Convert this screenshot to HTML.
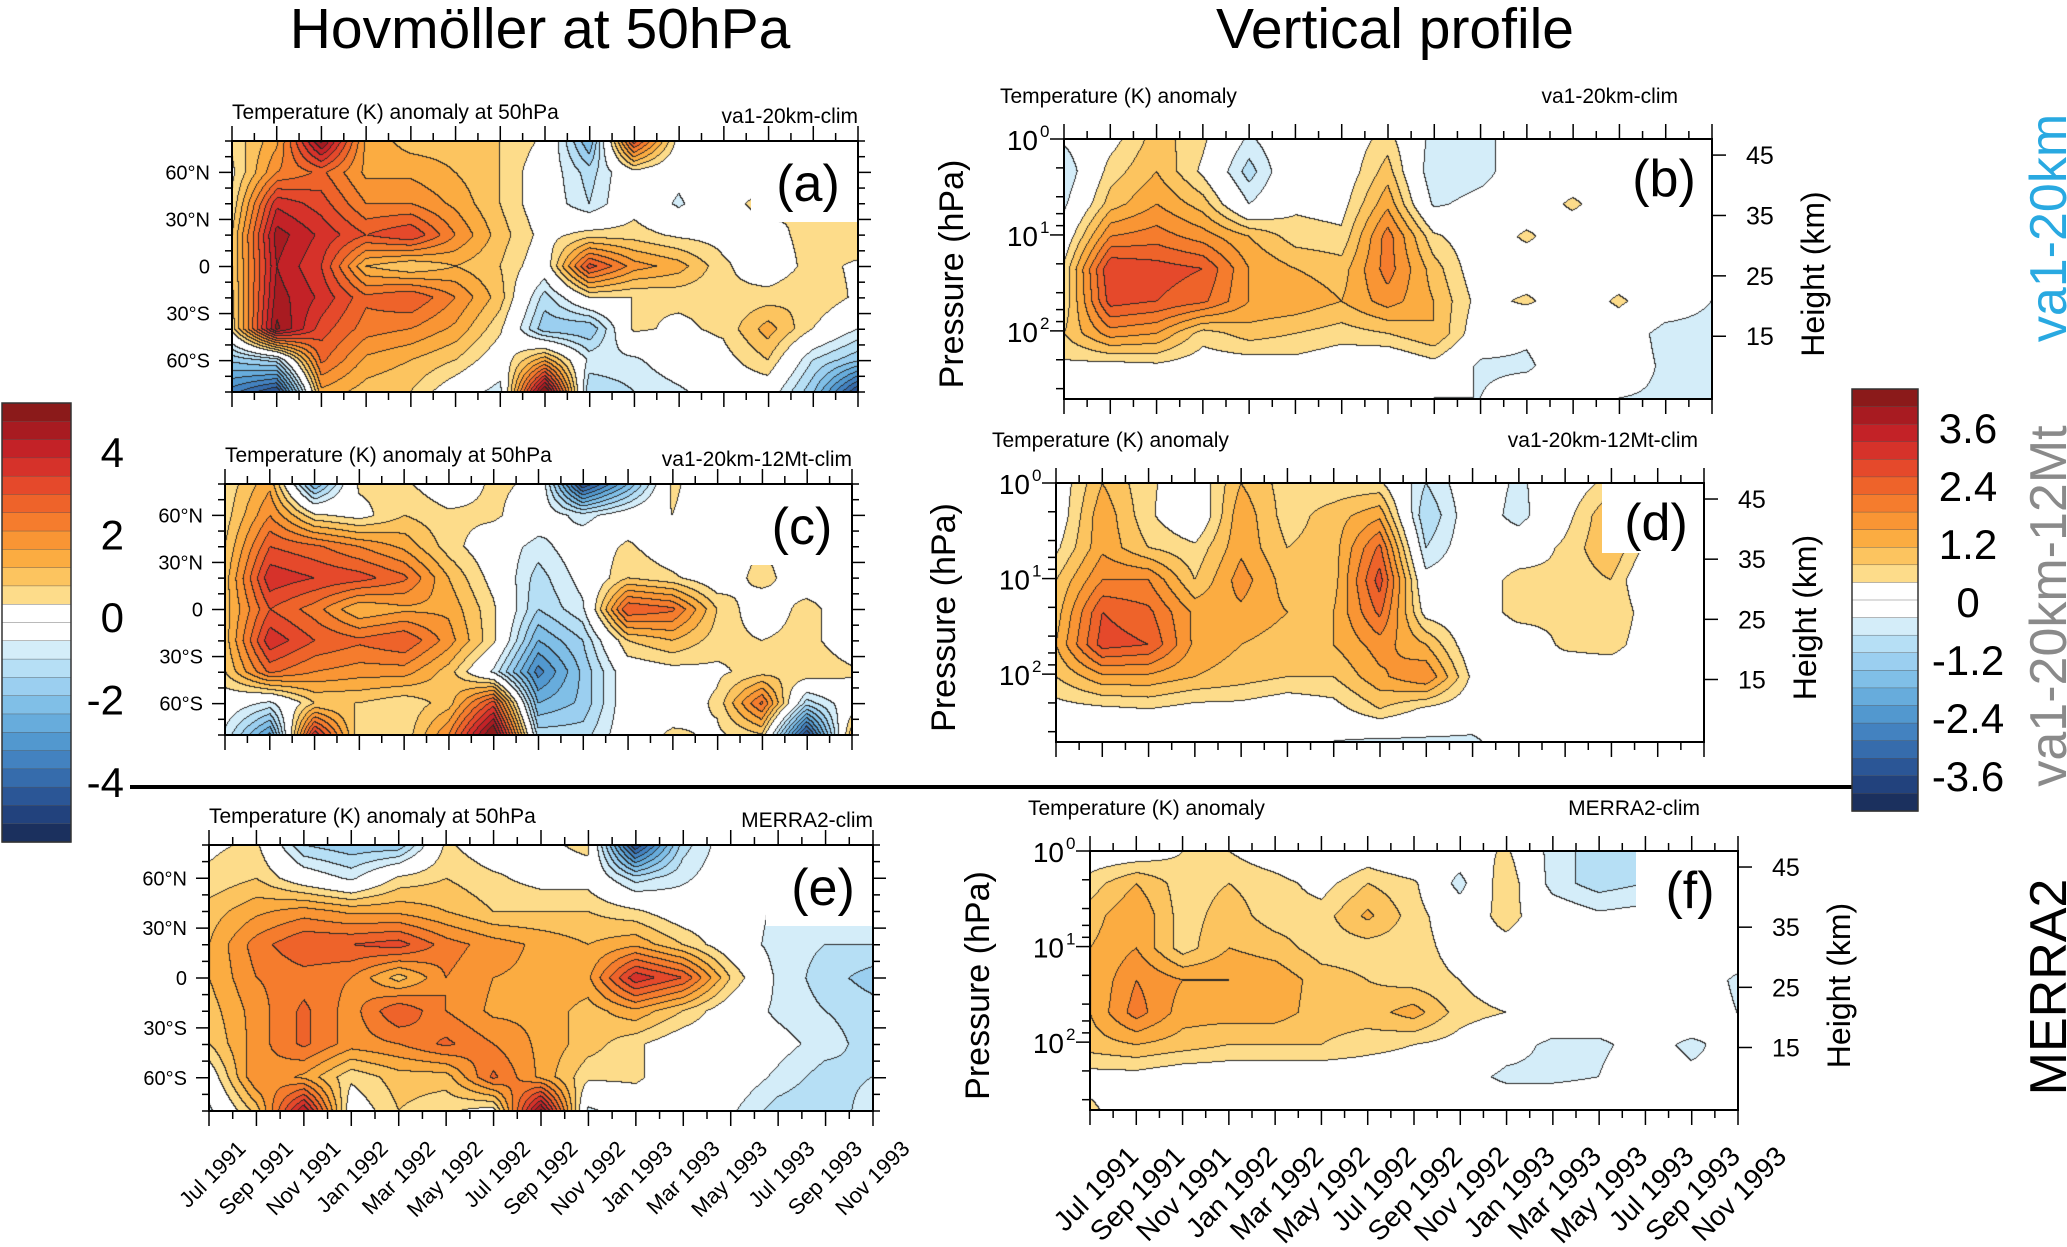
<!DOCTYPE html>
<html><head><meta charset="utf-8"><title>Temperature anomaly panels</title>
<style>
html,body{margin:0;padding:0;background:#fff;}
#root{position:relative;width:2067px;height:1247px;overflow:hidden;background:#fff;font-family:"Liberation Sans",Arial,sans-serif;}
canvas{position:absolute;}
#ov{position:absolute;left:0;top:0;}
</style></head>
<body>
<div id="root">
<svg id="ov" width="2067" height="1247" xmlns="http://www.w3.org/2000/svg"></svg>
</div>
<script>
// ---- data (rows: top to bottom, columns: every 2 months Jul 1991 .. Nov 1993) ----
const timeLabels = ['Jul 1991','Sep 1991','Nov 1991','Jan 1992','Mar 1992','May 1992','Jul 1992','Sep 1992','Nov 1992','Jan 1993','Mar 1993','May 1993','Jul 1993','Sep 1993','Nov 1993'];
const latRows = [80,60,40,20,0,-20,-40,-60,-80];
const latTickValues = [60,30,0,-30,-60];
const latTickLabels = ['60°N','30°N','0','30°S','60°S'];
const pressureDecades = [0,1,2];
const heightTickValues = [45,35,25,15];
const leftBarLabels = ['4','2','0','-2','-4'];
const leftBarValues = [4,2,0,-2,-4];
const rightBarLabels = ['3.6','2.4','1.2','0','-1.2','-2.4','-3.6'];
const rightBarValues = [3.6,2.4,1.2,0,-1.2,-2.4,-3.6];

const hovA = [
 [0.5,1.5,4.5,1.5,1,1,0.8,0.3,-2,3,0.2,0.3,0,0,0.2],
 [0.3,2,2.5,1.5,1.5,1.2,0.8,0,-1,0.2,-0.2,0.3,0,0,0.2],
 [0.5,3.5,3,2,2,1.5,0.8,0,-0.8,0.2,-0.5,0.2,0.6,0.3,0.6],
 [0.8,4.2,3.5,2.8,3.2,2,1,0.2,0.6,0.6,0.3,0.2,0.2,0.6,0.8],
 [0.8,4,3.2,1.2,0.8,1.2,0.8,0,3,1.8,1.4,0.5,0,0.6,0.3],
 [0.7,4.2,3.5,2.5,2.8,2,1,-1,0.4,0.4,0.5,0.5,0.6,0.8,0.3],
 [0.6,4.5,3,2.2,2,1.5,0.5,-1.5,-1.6,0.5,0.3,0.5,1.4,0.4,-0.4],
 [-1.5,-1,2.5,1.5,1.2,0.8,0,1.5,-0.5,-0.5,0,0.2,0.8,-0.8,-1.5],
 [-3,-4,1.5,1,0.8,0,-0.6,5,-1.2,-0.8,-0.5,0,0,-1.5,-4]
];
const hovC = [
 [0.5,1.5,-2,0.5,0.5,0,0.5,0.3,-4,-2,0.5,0,0,0,0.2],
 [0.6,2,0.5,0.2,0.8,0.5,0.5,0,-0.6,0,0.4,0,0,0,0.2],
 [0.8,2.8,2.5,2,1.5,0.6,0,-0.6,0,0.5,0,0,0.4,0,0],
 [1,3.5,3.2,3,2.5,1.2,0.2,-1,-0.2,0.8,0.5,0,0.6,0,0.3],
 [1,2.8,2.2,1.2,1.5,1.5,0.5,-1.2,-0.5,2.8,2.5,0.8,0,0.6,0],
 [1,3.5,2.8,2.5,2.8,1.8,0.5,-2,-1.2,0.8,1.2,0.6,0.4,0.6,0],
 [0.8,2.5,2,1.8,1.8,1,-0.5,-3,-1.5,0,0.2,0.3,0.6,0.8,0.5],
 [0,-0.5,0.8,0.8,0.5,1,3,-2,-1.5,0,0,0.5,2.5,-1,0],
 [-0.5,-2.5,3.5,0.5,0.5,2,5,-1,-1,0,0.5,0.3,0.8,-4,1]
];
const hovE = [
 [0.3,0.5,-1.2,-1.5,-1.5,0.5,0,0.3,0.5,-4,-1,0,0,0,0.5],
 [0.5,0.8,0,-0.5,0.5,0.8,0.5,0.2,0.2,-1,-0.5,0,0,0,0],
 [1,1.5,1.8,1.5,1.5,1.2,0.8,0.8,0.8,0.5,0,0,-0.5,-0.8,-0.5],
 [1.2,2.2,2.8,2.8,3,2.2,1.8,1.5,1.2,1.5,0.8,0,-0.6,-0.8,-0.8],
 [1.2,2,2.2,2,1,2,1.6,1.5,1.5,3.5,2.8,0.8,-0.5,-1,-1.4],
 [1,1.8,2.5,1.8,2.8,2,1.5,1.5,1,1.5,0.8,0,-0.5,-0.8,-1],
 [0.8,1.8,2.5,1.8,2,2.5,2,1.5,1,0.5,0,0,-0.2,-0.6,-1],
 [0,2,1.5,0.5,1,1,2.5,1.5,0.5,0.5,0,0,-0.5,-1,-0.8],
 [-0.5,1,4,0,0.8,0.5,0.2,4.5,-0.5,0,0,-0.3,-1,-1.2,-0.5]
];
const profB = [
 [-0.3,0.2,1,0.5,-0.5,0.2,0,0.6,-0.6,-0.6,0,0,0,0,0],
 [-0.8,0.6,1.2,0.3,-1,0.2,0,1,-0.8,-0.6,0,0,0.2,0,0],
 [-0.5,1,1.6,1,-0.4,0.3,0.2,1.5,-0.5,-0.2,0,0.5,0,0,0],
 [0,2,2.2,1.8,1.2,0.6,0.5,2.2,0.5,0,0.5,0,0,0,-0.3],
 [0.5,3.2,3,2.8,1.6,1.2,1,2.2,1,0,0,0.2,0,-0.4,0],
 [0.5,3,2.8,2.5,1.6,1.5,1.2,1.8,1.2,0.2,0.5,0,0.5,0,-0.4],
 [0.8,1.8,1.6,0.6,1,0.8,0.6,0.8,1.2,0,-0.3,0,0,-0.6,-0.6],
 [0.3,0.2,0.3,0.1,0.1,0.2,0,-0.2,0.2,-0.5,-0.5,0,0,-0.5,-0.6],
 [0,0,0,0,0,0,-0.2,0,-0.4,-0.4,0,0,-0.4,-0.5,-0.5]
];
const profD = [
 [0,1.2,0.5,0,1.2,0.6,0.5,0.5,-0.8,0,-0.5,0,0.6,0,0],
 [0,1.5,0.5,-0.2,1.5,0.6,1,1.5,-1.2,0,-0.6,0.2,1.2,0,0],
 [0.3,1.5,0.8,0.5,1.5,0.8,1,2.5,-0.8,0,0,0.5,1.2,0,-0.3],
 [0.8,2,2,0.8,1.8,1,1,3,-0.2,0,0.6,0.5,0.8,-0.4,0],
 [1,2.8,2.5,1.5,1.5,1.2,1.2,2.5,0.2,0,0.6,0.5,0.8,0,0],
 [1.2,3,2.8,1.5,1.2,1,1.2,1.8,1.2,0,0,0.5,0.6,0,0],
 [0.8,1.5,1.5,1.2,1,0.8,0.8,1.5,2,0.3,0,0,0,0,0],
 [0.2,0.3,0.4,0.2,0.2,0,0.2,0.8,0.3,0,-0.3,0,0,-0.4,0],
 [0,0,0,0,-0.4,0,-0.4,-0.5,-0.5,-0.5,0,0,-0.4,0,0]
];
const profF = [
 [0,0,0.4,0.4,0,-0.4,0,-0.4,0,0.5,-0.6,-1,-1.2,0,-0.5],
 [0.6,1.2,0.6,0.8,0.6,0.2,0.8,0.5,-0.6,0.8,-0.6,-1,-0.8,0,-0.6],
 [1,1.6,0.6,1,0.6,0.6,1.3,0.6,0,0.6,0,-0.3,-0.2,0.3,0],
 [1.2,1.6,0.6,1.2,1,0.6,0.6,0.6,0.2,0.2,0,0,0,0,0],
 [1.2,2,1.6,1.6,1.5,1,0.8,0.6,0.4,0,0,0,0,0,-0.5],
 [1.2,2.2,1.4,1.4,1.4,1,1,1.4,0.6,0.4,0,0,0,0,-0.4],
 [1,1.2,1,0.8,0.8,0.8,0.6,0.4,0.2,-0.2,-0.5,-0.5,-0.2,-0.5,-0.2],
 [0.2,0.2,0,0,0,0,0,0,-0.2,-0.5,-0.5,-0.4,0,-0.3,-0.3],
 [0.5,0,0,0,0,0,0,0,0,0,0,0,0,0,0]
];

const POS = ['#fddc8a','#fcc45f','#fbac41','#f99534','#f57c2d','#ee632a','#e5492b','#d6322a','#c32227','#a81b21','#8b1a1a'];
const NEG = ['#d4edf9','#b6dff5','#9bcff0','#80bfe7','#67acdc','#5298cf','#4382c0','#366cac','#2b5696','#22427d','#1b305e'];
const STEP = 0.4;
const LOG_P_BOTTOM = 2.71;

const svg = document.getElementById('ov');
const root = document.getElementById('root');
const NS = 'http://www.w3.org/2000/svg';
function mk(tag, attrs, parent){
  const e = document.createElementNS(NS, tag);
  for (const k in attrs) e.setAttribute(k, attrs[k]);
  (parent || svg).appendChild(e);
  return e;
}
function txt(x, y, s, size, anchor, parent, extra){
  const e = mk('text', Object.assign({x:x, y:y, 'font-size':size, 'text-anchor':anchor||'start', fill:'#000', 'font-family':'Liberation Sans, Arial, sans-serif'}, extra||{}), parent);
  e.textContent = s;
  return e;
}
function levelOf(v){
  if (v >= STEP) return Math.min(11, Math.floor((v - STEP)/STEP) + 1);
  if (v <= -STEP) return -Math.min(11, Math.floor((-v - STEP)/STEP) + 1);
  return 0;
}
function hexRGB(h){ return [parseInt(h.substr(1,2),16),parseInt(h.substr(3,2),16),parseInt(h.substr(5,2),16)]; }
const POSR = POS.map(hexRGB), NEGR = NEG.map(hexRGB);
function colorOf(l){ return l>0 ? POSR[l-1] : (l<0 ? NEGR[-l-1] : [255,255,255]); }

function drawField(p, data){
  const cv = document.createElement('canvas');
  cv.width = p.w; cv.height = p.h;
  cv.style.left = p.x + 'px'; cv.style.top = p.y + 'px';
  
  
  root.insertBefore(cv, svg);
  const ctx = cv.getContext('2d');
  const R = data.length, C = data[0].length;
  const W = p.w, H = p.h;
  const lev = new Int8Array(W*H);
  for (let py=0; py<H; py++){
    const fy = py/(H-1)*(R-1); const r0 = Math.min(R-2, Math.floor(fy)); const ty = fy - r0;
    for (let px=0; px<W; px++){
      const fx = px/(W-1)*(C-1); const c0 = Math.min(C-2, Math.floor(fx)); const tx = fx - c0;
      const v = (data[r0][c0]*(1-tx)+data[r0][c0+1]*tx)*(1-ty) + (data[r0+1][c0]*(1-tx)+data[r0+1][c0+1]*tx)*ty;
      lev[py*W+px] = levelOf(v);
    }
  }
  const img = ctx.createImageData(W, H);
  for (let py=0; py<H; py++){
    for (let px=0; px<W; px++){
      const i = py*W+px; const l = lev[i];
      let col = colorOf(l);
      if ((px<W-1 && lev[i+1]!==l) || (py<H-1 && lev[i+W]!==l)) col = [40,40,40];
      img.data[i*4]=col[0]; img.data[i*4+1]=col[1]; img.data[i*4+2]=col[2]; img.data[i*4+3]=255;
    }
  }
  ctx.putImageData(img, 0, 0);
}

function timeX(p, i){ return p.x + i/(timeLabels.length-1)*p.w; }
function latY(p, lat){ return p.y + (80 - lat)/160*p.h; }
function logpY(p, lp){ return p.y + lp/LOG_P_BOTTOM*p.h; }
function heightY(p, z){ const pr = 1000*Math.exp(-z/6.9); return logpY(p, Math.log10(pr)); }

function timeTicks(p, g){
  for (let k=0; k<=2*(timeLabels.length-1); k++){
    const x = p.x + k/(2*(timeLabels.length-1))*p.w;
    const L = k%2===0 ? 15 : 8;
    mk('line',{x1:x,y1:p.y+p.h,x2:x,y2:p.y+p.h+L,stroke:'#000','stroke-width':1.5},g);
    mk('line',{x1:x,y1:p.y,x2:x,y2:p.y-L,stroke:'#000','stroke-width':1.5},g);
  }
}
function dateLabels(p, size, dx, yEnd, g){
  timeLabels.forEach((s,i)=>{
    const x = timeX(p,i)+dx;
    const t = txt(x, yEnd, s, size, 'end', g, {transform:'rotate(-45 '+x+' '+yEnd+')'});
    
    
  });
}
function frame(p, g){
  mk('rect',{x:p.x,y:p.y,width:p.w,height:p.h,fill:'none',stroke:'#000','stroke-width':2},g);
}
function letterBox(p, bx, by, bw, bh, letter, lx, ly, g){
  mk('rect',{x:bx,y:by,width:bw,height:bh,fill:'#fff'},g);
  const t = txt(lx, ly, letter, 52, 'middle', g);
  
  
}

function hovPanel(p){
  drawField(p, p.data);
  const g = mk('g',{});
  
  
  letterBox(p, p.x+p.w-107, p.y, 107, 81, p.letter, p.x+p.w-50, p.y+60, g);
  frame(p, g);
  timeTicks(p, g);
  for (let lat=-80; lat<=80; lat+=10){
    const y = latY(p, lat); const L = lat%30===0 ? 13 : 7;
    mk('line',{x1:p.x,y1:y,x2:p.x-L,y2:y,stroke:'#000','stroke-width':1.5},g);
    mk('line',{x1:p.x+p.w,y1:y,x2:p.x+p.w+L,y2:y,stroke:'#000','stroke-width':1.5},g);
  }
  latTickValues.forEach((lat,i)=>{
    const t = txt(p.x-22, latY(p,lat)+7, latTickLabels[i], 20, 'end', g);
    
    
  });
  const st = txt(p.x, p.y-22, 'Temperature (K) anomaly at 50hPa', 21, 'start', g);
  
  
  const rt = txt(p.x+p.w, p.y-18, p.run, 21, 'end', g);
  
  
  if (p.dates) dateLabels(p, 22, 38, 1150, g);
}

function profPanel(p){
  drawField(p, p.data);
  const g = mk('g',{});
  
  
  letterBox(p, p.x+p.w-102, p.y, 102, 70, p.letter, p.x+p.w-48, p.y+57, g);
  frame(p, g);
  timeTicks(p, g);
  for (let d=0; d<=2; d++){
    [1,2,4,6,8].forEach(m=>{
      const lp = d + Math.log10(m);
      if (lp > LOG_P_BOTTOM) return;
      const y = logpY(p, lp); const L = m===1 ? 14 : 8;
      mk('line',{x1:p.x,y1:y,x2:p.x-L,y2:y,stroke:'#000','stroke-width':1.5},g);
    });
  }
  pressureDecades.forEach(d=>{
    const y = logpY(p, d);
    const t = txt(p.x-26, y+11, '10', 28, 'end', g);
    
    
    const s = txt(p.x-24, y-2, String(d), 17, 'start', g);
    
    
  });
  mk('line',{x1:p.x+p.w,y1:p.y,x2:p.x+p.w,y2:p.y+p.h,stroke:'#000','stroke-width':2},g);
  heightTickValues.forEach(z=>{
    const y = heightY(p, z);
    mk('line',{x1:p.x+p.w,y1:y,x2:p.x+p.w+14,y2:y,stroke:'#000','stroke-width':1.5},g);
    const t = txt(p.x+p.w+34, y+9, String(z), 25, 'start', g);
    
    
  });
  const cy = p.y + p.h/2 + 5;
  const yl = txt(p.x-101, cy, 'Pressure (hPa)', 34, 'middle', g, {transform:'rotate(-90 '+(p.x-101)+' '+cy+')'});
  
  
  const hx = p.x+p.w+112;
  const hl = txt(hx, cy, 'Height (km)', 32, 'middle', g, {transform:'rotate(-90 '+hx+' '+cy+')'});
  
  
  const st = txt(p.sx, p.y-36, 'Temperature (K) anomaly', 21, 'start', g);
  
  
  const rt = txt(p.rx, p.y-36, p.run, 21, 'end', g);
  
  
  if (p.dates) dateLabels(p, 28, 50, 1158, g);
}

hovPanel({id:'panel-a', x:232, y:141, w:626, h:251, data:hovA, letter:'(a)', run:'va1-20km-clim'});
hovPanel({id:'panel-c', x:225, y:484, w:627, h:251, data:hovC, letter:'(c)', run:'va1-20km-12Mt-clim'});
hovPanel({id:'panel-e', x:209, y:845, w:664, h:266, data:hovE, letter:'(e)', run:'MERRA2-clim', dates:true});
profPanel({id:'panel-b', x:1064, y:139, w:648, h:260, data:profB, letter:'(b)', run:'va1-20km-clim', sx:1000, rx:1678});
profPanel({id:'panel-d', x:1056, y:483, w:648, h:259, data:profD, letter:'(d)', run:'va1-20km-12Mt-clim', sx:992, rx:1698});
profPanel({id:'panel-f', x:1090, y:851, w:648, h:259, data:profF, letter:'(f)', run:'MERRA2-clim', sx:1028, rx:1700, dates:true});

// titles
const t1 = txt(540, 48, 'Hovmöller at 50hPa', 57, 'middle');


const t2 = txt(1395, 48, 'Vertical profile', 57, 'middle');



// separator
const sep = mk('line',{x1:130,y1:787,x2:1852,y2:787,stroke:'#000','stroke-width':4});



// colorbars
function colorbar(id, x, y, w, h, labels, values, zeroY, pxPerK, lx, anchor){
  const g = mk('g',{});
  
  
  const cols = POS.slice().reverse().concat(['#ffffff','#ffffff']).concat(NEG);
  const bh = h/cols.length;
  cols.forEach((c,i)=>{
    const r = mk('rect',{x:x,y:y+i*bh,width:w,height:bh+0.5,fill:c,stroke:'#555','stroke-width':0.4},g);
    
    
  });
  mk('rect',{x:x,y:y,width:w,height:h,fill:'none',stroke:'#333','stroke-width':1.5},g);
  labels.forEach((s,i)=>{
    const yy = zeroY - values[i]*pxPerK;
    const t = txt(lx, yy+15, s, 42, anchor, g);
    
    
  });
}
colorbar('left-colorbar', 2, 403, 69, 439, leftBarLabels, leftBarValues, 617, 41.3, 124, 'end');
colorbar('right-colorbar', 1852, 389, 66, 422, rightBarLabels, rightBarValues, 602, 48.3, 1968, 'middle');

// row labels
function rowLabel(s, cy, color, name){
  const x = 2066;
  const t = txt(x, cy, s, 52, 'middle', svg, {transform:'rotate(-90 '+x+' '+cy+')', fill:color});
  
  
}
rowLabel('va1-20km', 228, '#29a9e1', 'row-label-va1-20km');
rowLabel('va1-20km-12Mt', 606, '#8a8a8a', 'row-label-va1-20km-12mt');
rowLabel('MERRA2', 987, '#000', 'row-label-merra2');
</script>
</body></html>
